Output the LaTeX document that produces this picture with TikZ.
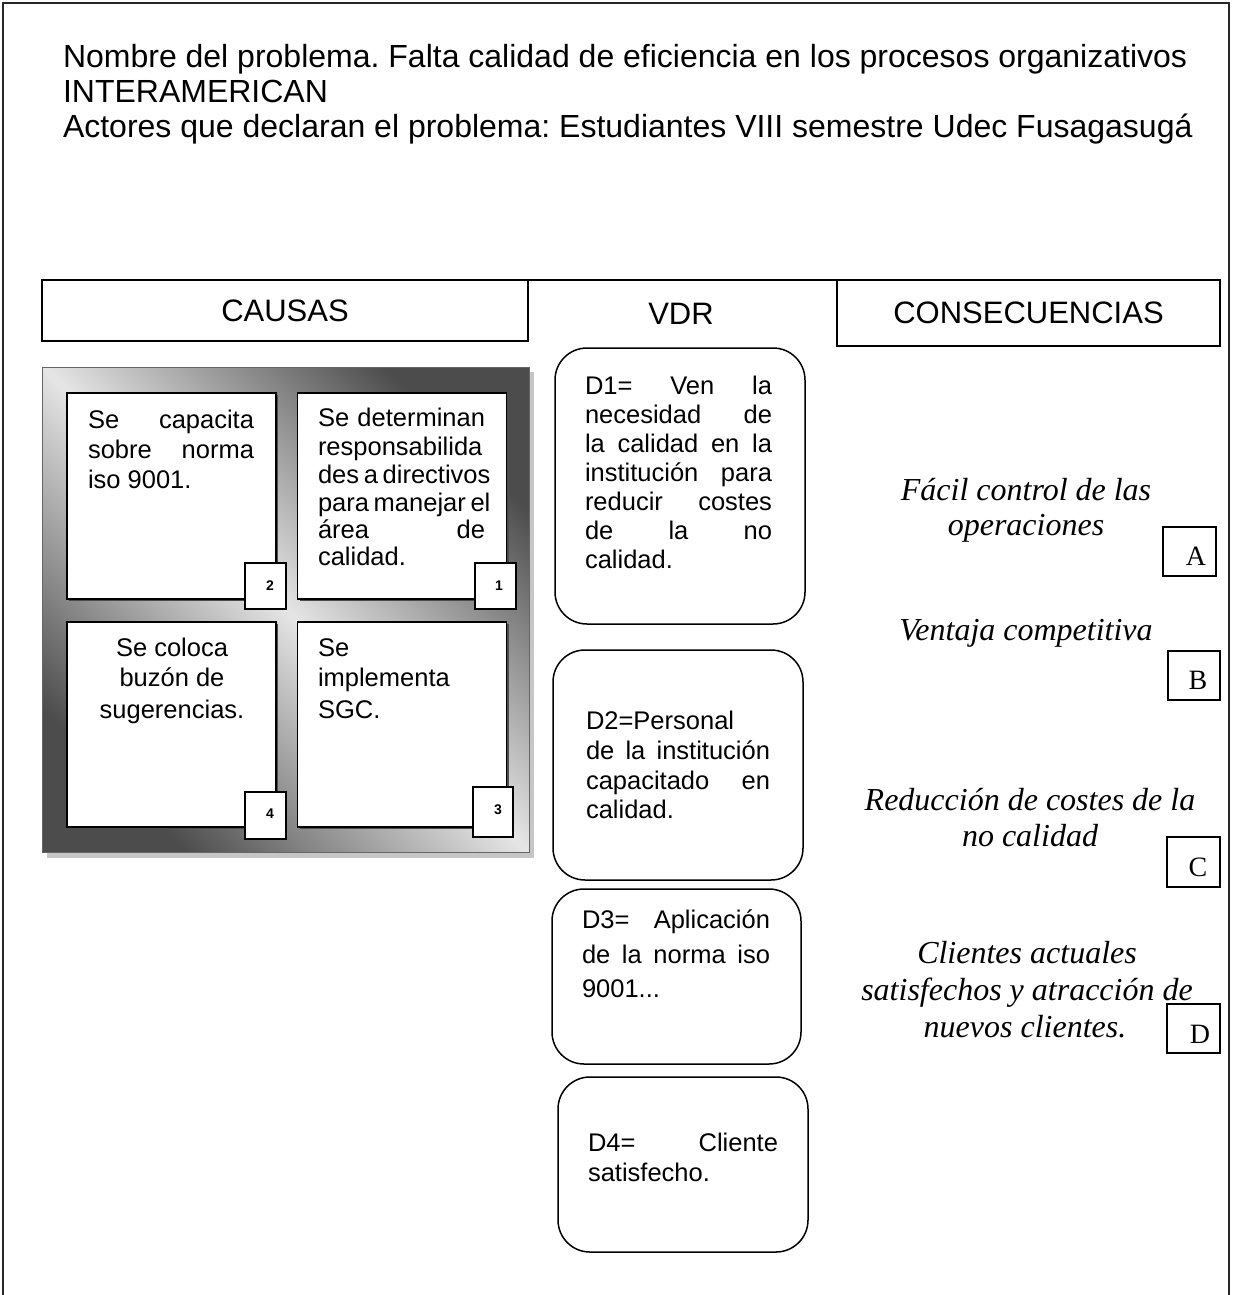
\documentclass[tikz,border=0pt]{standalone}
\usepackage{fontspec}
\setmainfont{Liberation Sans}
\newfontfamily\tnr{Liberation Serif}
\frenchspacing
\newcommand\jl[2]{\makebox[#1pt][s]{#2}}
\tikzset{
  every node/.style={inner sep=0pt, outer sep=0pt},
  ttl/.style={font=\fontsize{32}{36}\selectfont, anchor=base west},
  hdbox/.style={draw=black, line width=1.4pt, font=\fontsize{31}{35}\selectfont},
  hdtxt/.style={font=\fontsize{31}{35}\selectfont, anchor=base},
  btxt/.style={font=\fontsize{25.5}{29}\selectfont, anchor=base west},
  btxtc/.style={font=\fontsize{25.5}{29}\selectfont, anchor=base},
  ctxt/.style={font=\tnr\itshape\fontsize{32}{36}\selectfont, anchor=base},
  lettxt/.style={font=\tnr\fontsize{28}{32}\selectfont, anchor=base},
  letbox/.style={draw=black, line width=1.3pt, fill=white},
  numbox/.style={draw=black, line width=1.3pt, fill=white},
  numtxt/.style={font=\bfseries\fontsize{14}{16}\selectfont},
  causebox/.style={draw=black, line width=1.6pt, fill=white},
  vdrbox/.style={draw=black, line width=1.5pt, rounded corners=32pt},
}
\begin{document}
\begin{tikzpicture}[x=1pt,y=-1pt]
\useasboundingbox (0,0) rectangle (1232,1295);
\fill[white] (0,0) rectangle (1232,1295);
% outer frame
\coordinate (fbl) at (3,1296);
\coordinate (ftl) at (3,3);
\coordinate (ftr) at (1229,3);
\coordinate (fbr) at (1229,1296);
\draw[line width=2pt, black!85] (fbl) -- (ftl) -- (ftr) -- (fbr);
% title
\node[ttl] (t1) at (63,68) {Nombre del problema. Falta calidad de eficiencia en los procesos organizativos};
\node[ttl] (t2) at (63,103) {INTERAMERICAN};
\node[ttl] (t3) at (63,137) {Actores que declaran el problema: Estudiantes VIII semestre Udec Fusagasugá};
% headers
\node[hdbox, minimum width=486pt, minimum height=61pt] (causas) at (285,310.5) {CAUSAS};
\node[hdbox, minimum width=383pt, minimum height=66pt] (cons) at (1028.5,313) {CONSECUENCIAS};
\draw[line width=1.4pt] (causas.north east) -- (cons.north west);
\node[hdtxt] (vdr) at (681,324) {VDR};
% causes panel
\fill[gray!45] (47,372) rectangle (534,858);
\node[draw=black!60, line width=0.8pt, minimum width=487pt, minimum height=485pt,
      top color=black!70, bottom color=black!70, middle color=black!10, shading angle=-45]
      (panel) at (285.5,609.5) {};
% inner boxes (with slight shadow)
\foreach \cx/\cy/\h in {171.5/496/206, 402/496/206, 171.5/724.5/205, 402/724.5/205}
  \fill[black!70] (\cx-104.5+2,\cy-\h/2+2) rectangle (\cx+104.5+2,\cy+\h/2+2);
\node[causebox, minimum width=209pt, minimum height=206pt] (b2) at (171.5,496) {};
\node[causebox, minimum width=209pt, minimum height=206pt] (b1) at (402,496) {};
\node[causebox, minimum width=209pt, minimum height=205pt] (b4) at (171.5,724.5) {};
\node[causebox, minimum width=209pt, minimum height=205pt] (b3) at (402,724.5) {};
% number boxes
\node[numbox, minimum width=41pt, minimum height=46pt] (n2) at (265.5,586) {};
\node[numbox, minimum width=41pt, minimum height=46pt] (n1) at (495.5,586) {};
\node[numbox, minimum width=41pt, minimum height=47pt] (n4) at (265.5,815.5) {};
\node[numbox, minimum width=40pt, minimum height=50pt] (n3) at (493,812) {};
\node[numtxt] (n2t) at (270,586) {2};
\node[numtxt] (n1t) at (499,586) {1};
\node[numtxt] (n4t) at (270,814) {4};
\node[numtxt] (n3t) at (498,810) {3};
% box 2 text
\node[btxt] (b2a) at (88,428.5) {\jl{166}{Se capacita}};
\node[btxt] (b2b) at (88,458.5) {\jl{166}{sobre norma}};
\node[btxt] (b2c) at (88,488.5) {iso 9001.};
% box 1 text
\node[btxt] (b1a) at (318,426.5) {\jl{167}{Se determinan}};
\node[btxt] (b1b) at (318,455.5) {responsabilida};
\node[btxt] (b1c) at (318,483.5) {\jl{167}{des a directivos}};
\node[btxt] (b1d) at (318,511.5) {\jl{167}{para manejar el}};
\node[btxt] (b1e) at (318,538.5) {\jl{167}{área de}};
\node[btxt] (b1f) at (318,565.5) {calidad.};
% box 4 text
\node[btxtc] (b4a) at (172,656.5) {Se coloca};
\node[btxtc] (b4b) at (172,686.5) {buzón de};
\node[btxtc] (b4c) at (172,718.5) {sugerencias.};
% box 3 text
\node[btxt] (b3a) at (318,656.5) {Se};
\node[btxt] (b3b) at (318,686.5) {implementa};
\node[btxt] (b3c) at (318,718.5) {SGC.};
% VDR boxes
\node[vdrbox, minimum width=250pt, minimum height=276pt] (d1) at (680,486) {};
\node[vdrbox, minimum width=250pt, minimum height=230pt] (d2) at (678,765) {};
\node[vdrbox, minimum width=249pt, minimum height=175pt] (d3) at (676.5,976.5) {};
\node[vdrbox, minimum width=250pt, minimum height=175pt] (d4) at (683,1164.5) {};
% D1 text
\node[btxt] (d1a) at (585,394.5) {\jl{187}{D1= Ven la}};
\node[btxt] (d1b) at (585,423.5) {\jl{187}{necesidad de}};
\node[btxt] (d1c) at (585,452.5) {\jl{187}{la calidad en la}};
\node[btxt] (d1d) at (585,481.5) {\jl{187}{institución para}};
\node[btxt] (d1e) at (585,510.5) {\jl{187}{reducir costes}};
\node[btxt] (d1f) at (585,539.5) {\jl{187}{de la no}};
\node[btxt] (d1g) at (585,568.5) {calidad.};
% D2 text
\node[btxt] (d2a) at (586,729.5) {D2=Personal};
\node[btxt] (d2b) at (586,759.5) {\jl{184}{de la institución}};
\node[btxt] (d2c) at (586,789.5) {\jl{184}{capacitado en}};
\node[btxt] (d2d) at (586,818.5) {calidad.};
% D3 text
\node[btxt] (d3a) at (582,928.5) {\jl{188}{D3= Aplicación}};
\node[btxt] (d3b) at (582,963.5) {\jl{188}{de la norma iso}};
\node[btxt] (d3c) at (582,997.5) {9001...};
% D4 text
\node[btxt] (d4a) at (588,1151.5) {\jl{190}{D4= Cliente}};
\node[btxt] (d4b) at (588,1181.5) {satisfecho.};
% consequences
\node[ctxt] (ca1) at (1026,500) {Fácil control de las};
\node[ctxt] (ca2) at (1026,535) {operaciones};
\node[ctxt] (cb1) at (1026,640) {Ventaja competitiva};
\node[ctxt] (cc1) at (1030,810) {Reducción de costes de la};
\node[ctxt] (cc2) at (1030,846) {no calidad};
\node[ctxt] (cd1) at (1027,963) {Clientes actuales};
\node[ctxt] (cd2) at (1027,1000) {satisfechos y atracción de};
\node[ctxt] (cd3) at (1025,1037) {nuevos clientes.};
% letter boxes
\node[letbox, minimum width=53pt, minimum height=49pt] (la) at (1189.5,551.5) {};
\node[letbox, minimum width=52pt, minimum height=49pt] (lb) at (1194,675.5) {};
\node[letbox, minimum width=53pt, minimum height=50pt] (lc) at (1193.5,862) {};
\node[letbox, minimum width=53pt, minimum height=49pt] (ld) at (1193.5,1028.5) {};
\node[lettxt] (lat) at (1196,565) {A};
\node[lettxt] (lbt) at (1198,689) {B};
\node[lettxt] (lct) at (1198,876) {C};
\node[lettxt] (ldt) at (1200,1043) {D};
\end{tikzpicture}
\end{document}
